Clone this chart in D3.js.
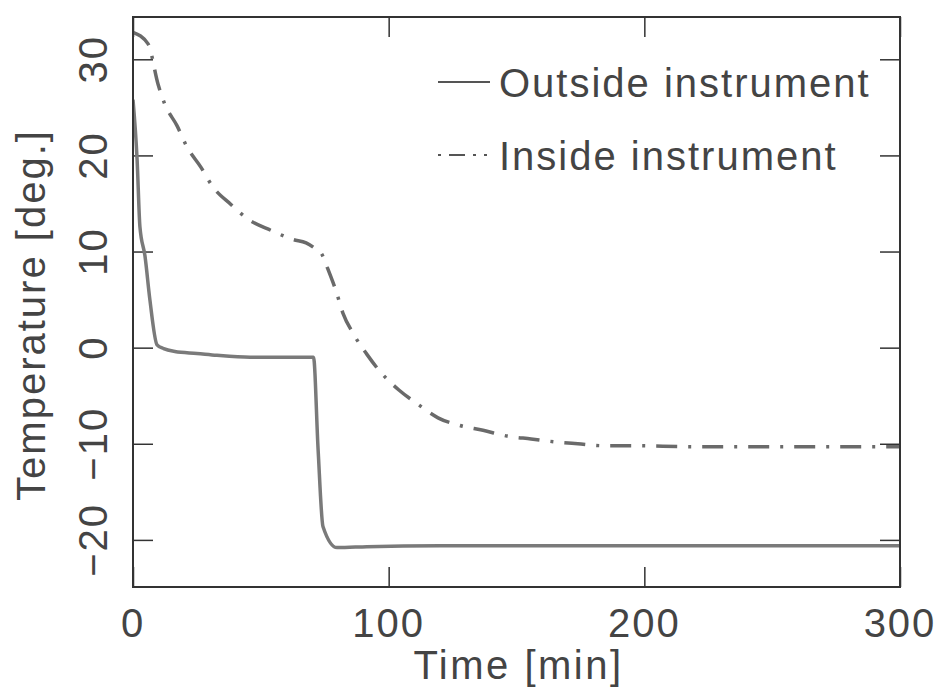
<!DOCTYPE html>
<html>
<head>
<meta charset="utf-8">
<script src="https://cdn.jsdelivr.net/npm/d3@7"></script>
<style>
  body { margin: 0; background: #fff; }
  text { font-family: "Liberation Sans", Arial, sans-serif; fill: #444; }
</style>
</head>
<body>
<script>
// values
const outsideTime = [0, 1.6, 2.7, 4.7, 6.6, 9.4, 12, 16.4, 25, 32.8, 45.8, 60, 70.6, 72.4, 74.3, 79.8, 91.5, 120, 150, 200, 250, 300];
const outsideTemp = [25.8, 19.6, 12.6, 9.5, 5.0, 0.3, -0.1, -0.4, -0.6, -0.8, -1.0, -1.0, -1.0, -10.6, -18.6, -20.8, -20.7, -20.6, -20.6, -20.6, -20.6, -20.6];

const insideTime = [0, 5.9, 9.8, 12.5, 17.2, 21.1, 26.6, 31.3, 38.3, 45.4, 54, 62.6, 67.7, 70.8, 73.9, 75.9, 79.4, 82.1, 86.4, 91.5, 97, 104, 111.5, 119.3, 127.9, 136.9, 146.3, 155.7, 165, 174, 183.8, 193.6, 220, 250, 275, 300];
const insideTemp = [32.8, 31.6, 27.4, 25.3, 23.1, 20.9, 18.75, 16.7, 14.9, 13.3, 12.2, 11.25, 10.9, 10.4, 9.7, 8.4, 5.9, 3.6, 1.35, -0.7, -2.6, -4.4, -5.9, -7.3, -8.1, -8.6, -9.2, -9.5, -9.8, -10.0, -10.2, -10.2, -10.3, -10.3, -10.3, -10.3];

const xTicks = [0, 100, 200, 300];
const yTicks = [-20, -10, 0, 10, 20, 30];
const legendLabels = ['Outside instrument', 'Inside instrument'];

const width = 939, height = 689;
const mLeft = 133, mRight = 900, mTop = 17, mBottom = 587;

const svg = d3.select('body').append('svg')
    .attr('width', width)
    .attr('height', height);

const x = d3.scaleLinear().domain([0, 300]).range([mLeft, mRight]);
const y = d3.scaleLinear().domain([-24.9, 34.4]).range([mBottom, mTop]);

svg.append('defs').append('clipPath').attr('id', 'plot')
  .append('rect')
    .attr('x', mLeft).attr('y', mTop)
    .attr('width', mRight - mLeft).attr('height', mBottom - mTop);

// inward ticks on all four sides
const tickLen = 20;
svg.append('g').attr('transform', `translate(0,${mBottom})`)
    .call(d3.axisBottom(x).tickValues(xTicks).tickSize(-tickLen).tickFormat(''))
    .call(g => g.select('.domain').remove());
svg.append('g').attr('transform', `translate(0,${mTop})`)
    .call(d3.axisTop(x).tickValues(xTicks).tickSize(-tickLen).tickFormat(''))
    .call(g => g.select('.domain').remove());
svg.append('g').attr('transform', `translate(${mLeft},0)`)
    .call(d3.axisLeft(y).tickValues(yTicks).tickSize(-tickLen).tickFormat(''))
    .call(g => g.select('.domain').remove());
svg.append('g').attr('transform', `translate(${mRight},0)`)
    .call(d3.axisRight(y).tickValues(yTicks).tickSize(-tickLen).tickFormat(''))
    .call(g => g.select('.domain').remove());
svg.selectAll('.tick line').attr('stroke', '#333').attr('stroke-width', 1.5);

// tick labels
svg.append('g').selectAll('text')
  .data(xTicks).enter().append('text')
    .attr('x', d => x(d))
    .attr('y', 637)
    .attr('text-anchor', 'middle')
    .style('font-size', '40px')
    .style('letter-spacing', '2px')
    .text(d => d);

svg.append('g').selectAll('text')
  .data(yTicks).enter().append('text')
    .attr('transform', d => `translate(107,${y(d)}) rotate(-90)`)
    .attr('text-anchor', 'middle')
    .style('font-size', '40px')
    .style('letter-spacing', '2px')
    .text(d => d === 0 ? '0' : (d < 0 ? '\u2212' + (-d) : d));

// axis titles
svg.append('text')
    .attr('x', (mLeft + mRight) / 2 + 2)
    .attr('y', 679)
    .attr('text-anchor', 'middle')
    .style('font-size', '40px')
    .style('letter-spacing', '2.5px')
    .text('Time [min]');

svg.append('text')
    .attr('transform', 'translate(45,315) rotate(-90)')
    .attr('text-anchor', 'middle')
    .style('font-size', '40px')
    .style('letter-spacing', '2px')
    .text('Temperature [deg.]');

// curves
const line = d3.line()
    .x(d => x(d[0]))
    .y(d => y(d[1]))
    .curve(d3.curveMonotoneX);

const outside = outsideTime.map((t, i) => [t, outsideTemp[i]]);
const inside = insideTime.map((t, i) => [t, insideTemp[i]]);

const plot = svg.append('g').attr('clip-path', 'url(#plot)');
plot.append('path')
    .attr('d', line(outside))
    .attr('fill', 'none')
    .attr('stroke', '#7a7a7a')
    .attr('stroke-width', 3.5);
plot.append('path')
    .attr('d', line(inside))
    .attr('fill', 'none')
    .attr('stroke', '#6a6a6a')
    .attr('stroke-width', 3.5)
    .attr('stroke-dasharray', '21 11 3 11');

// frame
svg.append('rect')
    .attr('x', mLeft).attr('y', mTop)
    .attr('width', mRight - mLeft).attr('height', mBottom - mTop)
    .attr('fill', 'none')
    .attr('stroke', '#333')
    .attr('stroke-width', 2);

// legend
const legend = svg.append('g');
const legendY = [82, 155];
legend.selectAll('line')
  .data(legendLabels).enter().append('line')
    .attr('x1', 438).attr('x2', 490)
    .attr('y1', (d, i) => legendY[i]).attr('y2', (d, i) => legendY[i])
    .attr('stroke', '#555')
    .attr('stroke-width', 2)
    .attr('stroke-dasharray', (d, i) => i === 0 ? null : '3 8 16 8 3 8');
legend.selectAll('text')
  .data(legendLabels).enter().append('text')
    .attr('x', 499)
    .attr('y', (d, i) => legendY[i] + 15)
    .style('font-size', '40px')
    .style('letter-spacing', '2px')
    .text(d => d);
</script>
</body>
</html>
